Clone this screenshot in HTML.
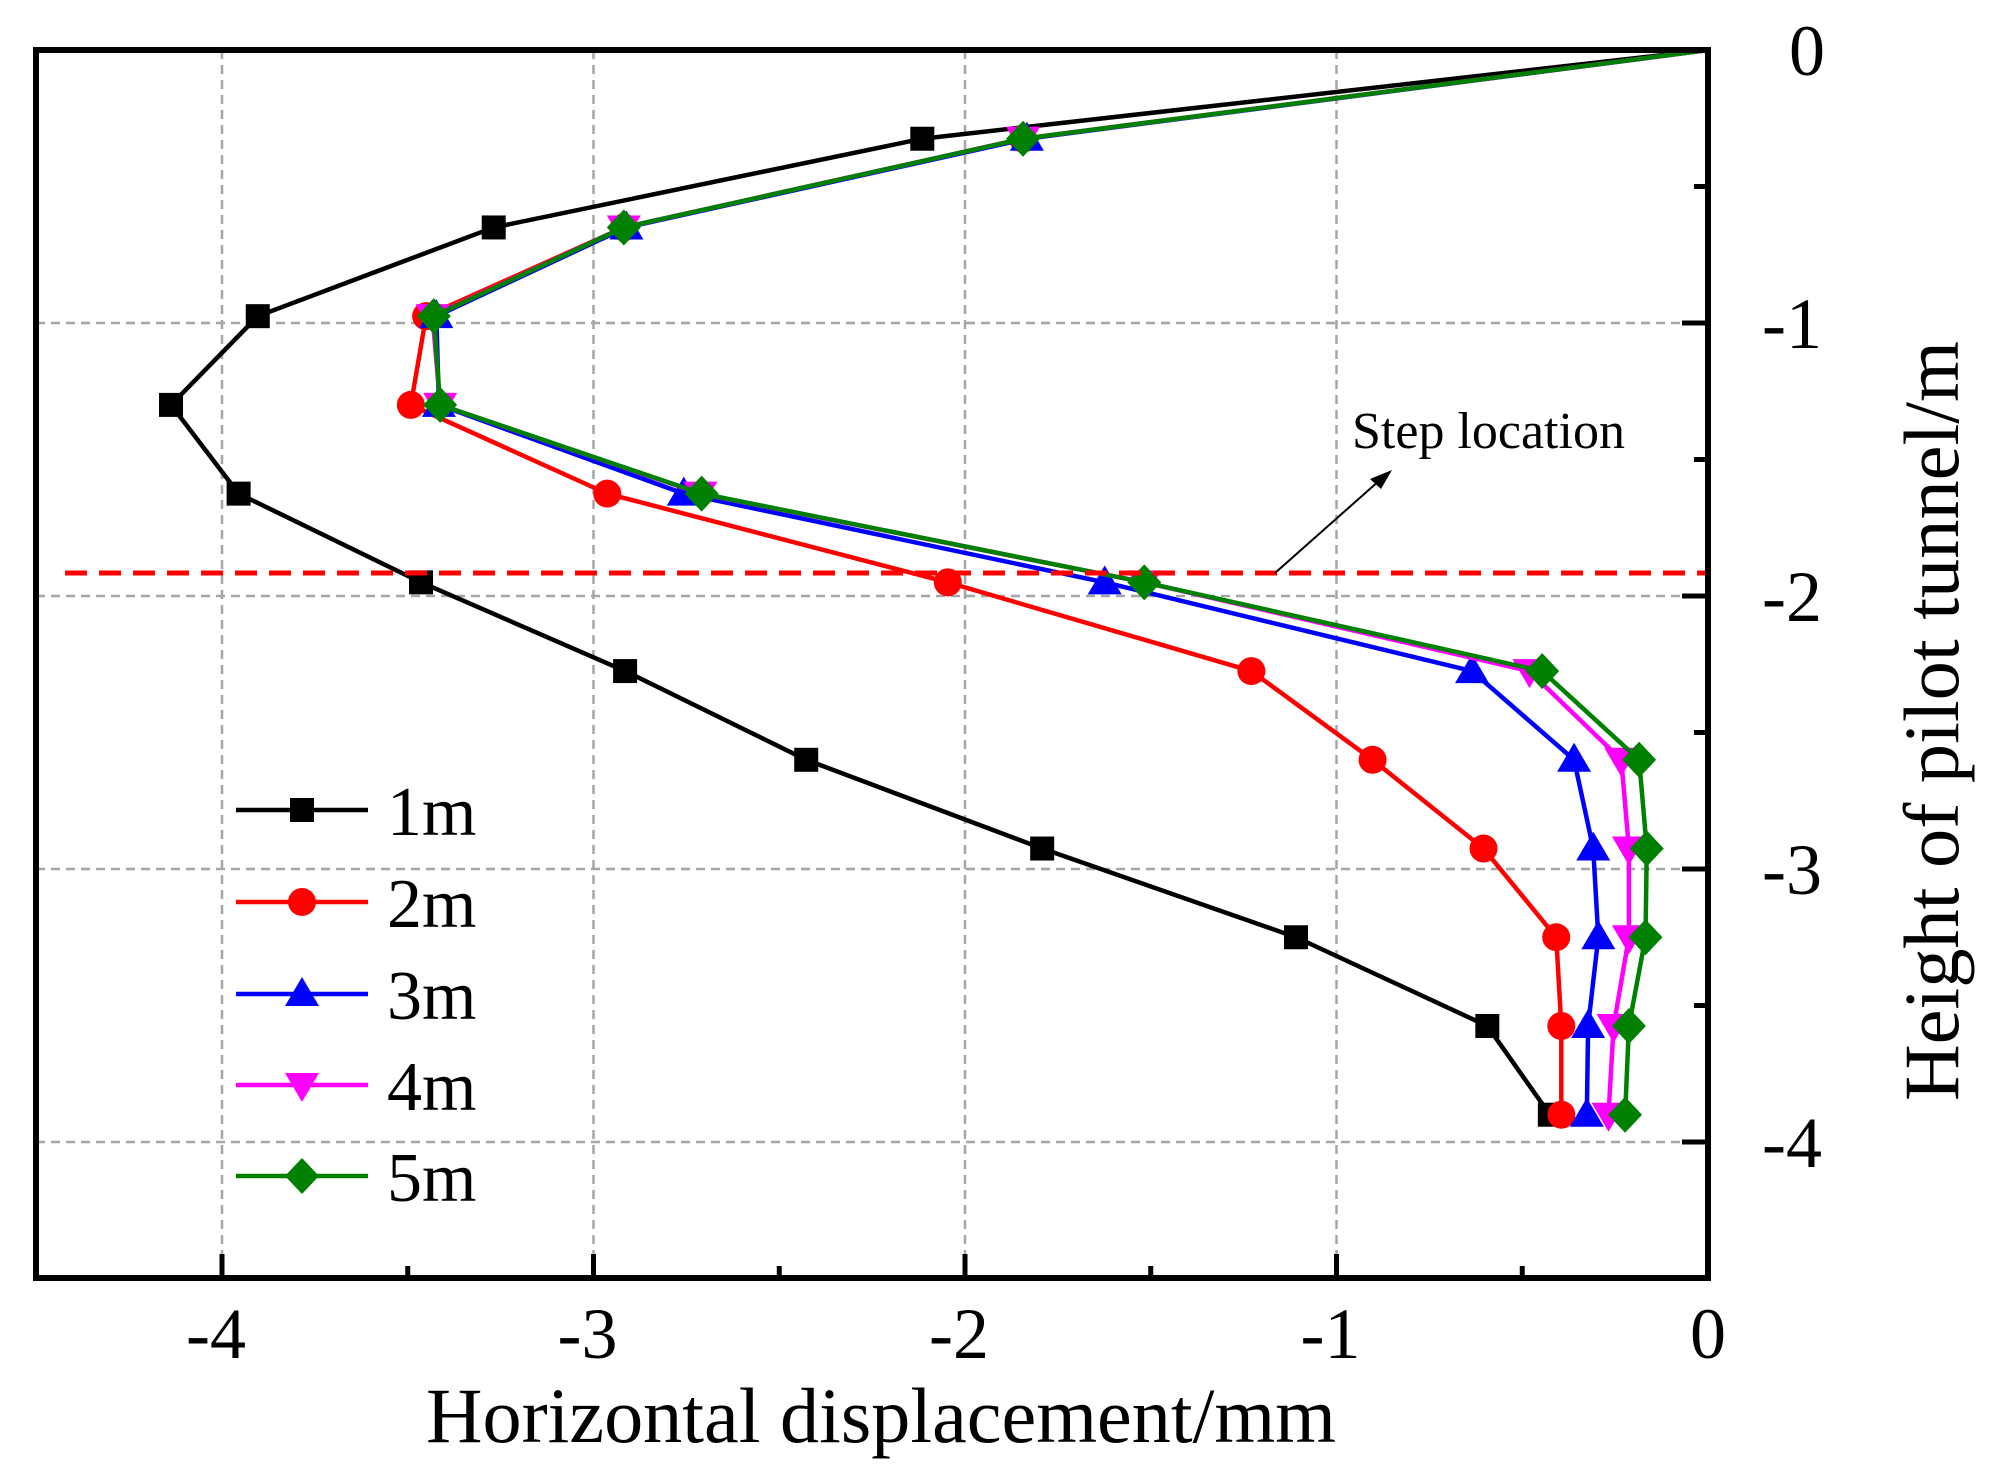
<!DOCTYPE html>
<html><head><meta charset="utf-8"><style>
html,body{margin:0;padding:0;background:#fff}
svg{display:block}
text{font-family:"Liberation Serif",serif;fill:#000}
</style></head><body>
<svg id="s" width="2000" height="1482" viewBox="0 0 2000 1482" xmlns="http://www.w3.org/2000/svg">
<g id="grid" stroke="#a6a6a6" stroke-width="2.5" stroke-dasharray="9,6" fill="none"></g>
<g id="ser"></g>
<line x1="65" y1="573" x2="1708" y2="573" stroke="#ff0000" stroke-width="5" stroke-dasharray="22,12"/>
<line x1="1275" y1="573" x2="1380" y2="480" stroke="#000" stroke-width="2"/>
<polygon points="1392,470 1370,479 1381,489" fill="#000"/>
<text x="1352" y="448" font-size="52">Step location</text>
<rect x="36" y="50" width="1672" height="1228" fill="none" stroke="#000" stroke-width="6"/>
<g id="ticks" stroke="#000" stroke-width="5"></g>
<g id="lab" font-size="72"></g>
<text x="881" y="1442" font-size="78" text-anchor="middle" textLength="910" lengthAdjust="spacingAndGlyphs">Horizontal displacement/mm</text>
<text transform="translate(1958,721) rotate(-90)" font-size="78" text-anchor="middle" textLength="760" lengthAdjust="spacingAndGlyphs">Height of pilot tunnel/m</text>
<g id="leg"></g>
</svg>
<script>
const NS="http://www.w3.org/2000/svg";
function el(p,t,a,txt){const e=document.createElementNS(NS,t);for(const k in a)e.setAttribute(k,a[k]);if(txt!==undefined)e.textContent=txt;p.appendChild(e);return e;}
const X=x=>1708+x*371.5, Y=y=>50-y*273;
const g=document.getElementById('grid');
for(const v of[-4,-3,-2,-1])el(g,'line',{x1:X(v),y1:50,x2:X(v),y2:1278});
for(const v of[-1,-2,-3,-4])el(g,'line',{x1:36,y1:Y(v),x2:1708,y2:Y(v)});
const t=document.getElementById('ticks');
for(let v=-4.5;v<=0.001;v+=0.5){const maj=Math.abs(v-Math.round(v))<0.01;
 el(t,'line',{x1:X(v),y1:1278,x2:X(v),y2:1278-(maj?24:12)});
 el(t,'line',{x1:1708,y1:Y(v),x2:1708-(maj?26:14),y2:Y(v)});}
const lb=document.getElementById('lab');
for(const v of[-4,-3,-2,-1,0]){el(lb,'text',{x:X(v)-(v<0?6:0),y:1358,'text-anchor':'middle'},v==0?'0':'-'+(-v));}
for(const v of[0,-1,-2,-3,-4]){el(lb,'text',{x:v==0?1807:1792,y:Y(v)+25,'text-anchor':'middle'},v==0?'0':'-'+(-v));}
const yd=[]; for(let i=0;i<13;i++)yd.push(-0.325*i);
const disp={
k:[1340,724,388,203,135,188,331,491,633,818,1017,1167,1216],
r:[1340,803,490,335,323,477,744,982,1077,1164,1221,1225,1225],
b:[1340,806,492,343,345,537,867,1155,1235,1250,1254,1246,1245],
m:[1340,803,490,340,346,550,898,1200,1272,1278,1278,1266,1262],
g:[1340,803,490,341,346,551,898,1210,1286,1292,1291,1278,1275]};
const col={k:'#000',r:'#ff0000',b:'#0000ff',m:'#ff00ff',g:'#008000'};
function marker(p,k,x,y){const c=col[k];
 if(k=='k')el(p,'rect',{x:x-12,y:y-12,width:24,height:24,fill:c});
 else if(k=='r')el(p,'circle',{cx:x,cy:y,r:14,fill:c});
 else if(k=='b')el(p,'polygon',{points:`${x},${y-17} ${x-17},${y+12} ${x+17},${y+12}`,fill:c});
 else if(k=='m')el(p,'polygon',{points:`${x},${y+17} ${x-17},${y-12} ${x+17},${y-12}`,fill:c});
 else el(p,'polygon',{points:`${x},${y-18} ${x+17},${y} ${x},${y+18} ${x-17},${y}`,fill:c});}
const s=document.getElementById('ser');
for(const k of['k','r','b','m','g']){
 const pts=disp[k].map((xd,i)=>[1708+(xd-1340)*1.2755,Y(yd[i])]);
 el(s,'polyline',{points:pts.map(p=>p.join(',')).join(' '),fill:'none',stroke:col[k],'stroke-width':4.5,'stroke-linejoin':'round'});
 pts.forEach((p,i)=>{if(i>0)marker(s,k,p[0],p[1]);});}
const lg=document.getElementById('leg');
const rows=[810,902,994,1085,1176],names=['1m','2m','3m','4m','5m'];
['k','r','b','m','g'].forEach((k,i)=>{const y=rows[i];
 el(lg,'line',{x1:236,y1:y,x2:368,y2:y,stroke:col[k],'stroke-width':4.5});
 marker(lg,k,302,y);
 el(lg,'text',{x:387,y:y+25,'font-size':70},names[i]);});
</script>
</body></html>
